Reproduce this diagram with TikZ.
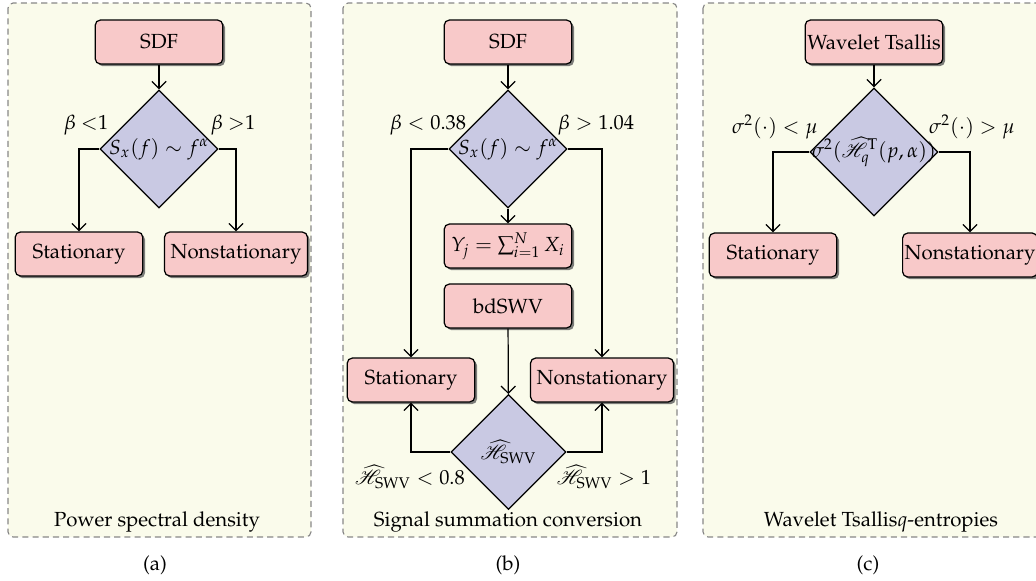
\documentclass[tikz,border=0pt]{standalone}
\usepackage[T1]{fontenc}
\usepackage{mathpazo}
\usepackage{mathrsfs}
\usetikzlibrary{shapes.geometric,shadows,arrows.meta}

\definecolor{panelfill}{RGB}{250,251,235}
\definecolor{panelline}{RGB}{135,135,135}
\definecolor{boxfill}{RGB}{248,201,201}
\definecolor{decfill}{RGB}{201,201,227}

\tikzset{
  panel/.style={draw=panelline, line width=0.55pt, dash pattern=on 3pt off 2pt,
    fill=panelfill, rounded corners=2.5pt},
  procbox/.style={rectangle, rounded corners=2.5pt, draw=black, line width=0.6pt,
    fill=boxfill, minimum width=62.5pt, minimum height=21.5pt, inner xsep=2pt,
    drop shadow={shadow xshift=1.1pt, shadow yshift=-1.1pt, fill=black!60, opacity=0.85}},
  decision/.style={diamond, aspect=1, draw=black, line width=0.6pt, fill=decfill,
    inner sep=0pt, minimum width=#1, minimum height=#1},
  flow/.style={draw=black, line width=0.6pt, -{Straight Barb[length=3.5pt,width=7pt]}},
  cond/.style={inner sep=0pt},
}

\begin{document}
\begin{tikzpicture}[x=0.49pt, y=-0.49pt, font=\fontsize{10}{12}\selectfont]
  \useasboundingbox (0,0) rectangle (1036,581);

  % ---------------- (a) power spectral density ----------------
  \draw[panel] (8,3) rectangle (311,537);
  \node[procbox] (a-sdf) at (159,42) {SDF};
  \node[decision=57.8pt] (a-dec) at (159,149) {\makebox[0pt]{$S_x(f)\sim f^{\alpha}$}};
  \node[procbox] (a-st) at (79,254) {Stationary};
  \node[procbox, inner xsep=3pt] (a-ns) at (236,254) {Nonstationary};
  \node[cond] (a-lo) at (86,125) {$\beta$ $<$1};
  \node[cond] (a-hi) at (233,125) {$\beta$ $>$1};
  \node (a-title) at (157,522) {Power spectral density};
  \node (a-cap) at (155,565) {(a)};
  \draw[flow] (a-sdf) -- (a-dec);
  \draw[flow] (a-dec.west) -| (a-st.north);
  \draw[flow] (a-dec.east) -| (a-ns.north);

  % ---------------- (b) signal summation conversion ----------------
  \draw[panel] (343,3) rectangle (677,537);
  \node[procbox] (b-sdf) at (508,42) {SDF};
  \node[decision=57.8pt] (b-dec) at (508,149) {\makebox[0pt]{$S_x(f)\sim f^{\alpha}$}};
  \node[procbox] (b-sum) at (508,246) {$Y_j=\sum_{i=1}^{N}X_i$};
  \node[procbox] (b-bd) at (508,306) {bdSWV};
  \node[procbox] (b-st) at (411,380) {Stationary};
  \node[procbox, inner xsep=3pt] (b-ns) at (602,380) {Nonstationary};
  \node[decision=56.4pt] (b-swv) at (508.5,452) {\makebox[0pt]{$\widehat{\mathscr{H}}_{\mathrm{SWV}}$}};
  \node[cond] (b-lo) at (428,125) {$\beta<0.38$};
  \node[cond] (b-hi) at (596,125) {$\beta>1.04$};
  \node[cond] (b-swvlo) at (410,477) {$\widehat{\mathscr{H}}_{\mathrm{SWV}}<0.8$};
  \node[cond] (b-swvhi) at (604,477) {$\widehat{\mathscr{H}}_{\mathrm{SWV}}>1$};
  \node (b-title) at (508,522) {Signal summation conversion};
  \node (b-cap) at (508,565) {(b)};
  \draw[flow] (b-sdf) -- (b-dec);
  \draw[flow] (b-dec) -- (b-sum);
  \draw[flow] (b-dec.west) -| (b-st.north);
  \draw[flow] (b-dec.east) -| (b-ns.north);
  \draw[flow] (b-bd) -- (b-swv);
  \draw[flow] (b-swv.west) -| (b-st.south);
  \draw[flow] (b-swv.east) -| (b-ns.south);

  % ---------------- (c) wavelet Tsallis q-entropies ----------------
  \draw[panel] (703,3) rectangle (1048,537);
  \node[procbox, inner xsep=1pt] (c-wt) at (874,42) {Wavelet Tsallis};
  \node[decision=62.7pt] (c-dec) at (874,152) {\makebox[0pt]{$\sigma^2(\widehat{\mathscr{H}}^{\mathrm{T}}_q(p,\alpha))$}};
  \node[procbox] (c-st) at (773,255) {Stationary};
  \node[procbox, inner xsep=1pt] (c-ns) at (970,255) {Nonstationary};
  \node[cond] (c-lo) at (775,127) {$\sigma^2(\cdot)<\mu$};
  \node[cond] (c-hi) at (972,127) {$\sigma^2(\cdot)>\mu$};
  \node (c-title) at (881,522) {Wavelet Tsallis$q$-entropies};
  \node (c-cap) at (868,565) {(c)};
  \draw[flow] (c-wt) -- (c-dec);
  \draw[flow] (c-dec.west) -| (c-st.north);
  \draw[flow] (c-dec.east) -| (c-ns.north);
\end{tikzpicture}
\end{document}
